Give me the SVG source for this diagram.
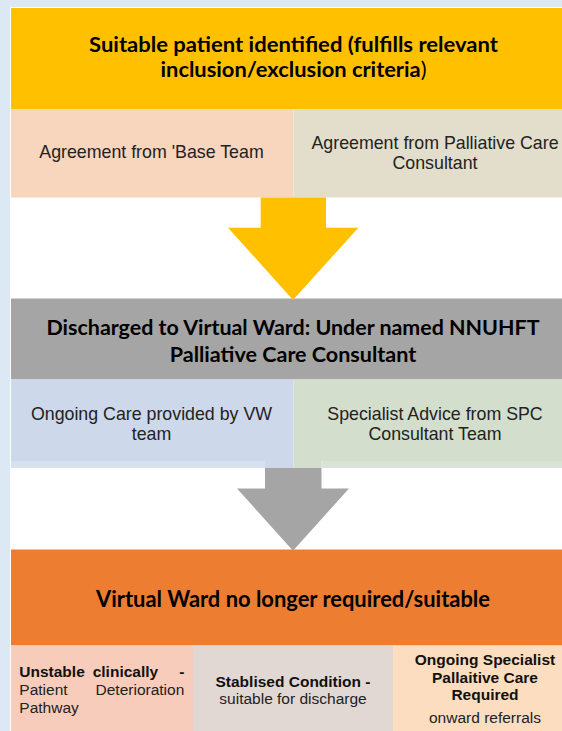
<svg xmlns="http://www.w3.org/2000/svg" width="562" height="731" viewBox="0 0 562 731">
  <style>
    .hdr { font-family: Lato, "Open Sans", "Noto Sans", sans-serif; font-weight: bold; fill: #000; text-anchor: middle; }
    .body { font-family: "Liberation Sans", Arial, sans-serif; fill: #222; }
    .mid { text-anchor: middle; }
    .b { font-weight: bold; fill: #111; }
    .sub { font-size: 17.8px; }
    .small { font-size: 15.5px; }
  </style>

  <!-- page background and frame -->
  <rect x="0" y="0" width="562" height="731" fill="#dde8f5"/>
  <rect x="10" y="7" width="552" height="724" fill="#ffffff"/>

  <!-- stage 1: suitability -->
  <g id="stage1-header">
    <rect x="11" y="8" width="551" height="101.5" fill="#ffc000"/>
    <text class="hdr" x="293.5" y="52" font-size="21" textLength="409" lengthAdjust="spacingAndGlyphs">Suitable patient identified (fulfills relevant</text>
    <text class="hdr" x="293.5" y="77" font-size="21" textLength="266" lengthAdjust="spacingAndGlyphs">inclusion/exclusion criteria<tspan font-weight="normal">)</tspan></text>
  </g>
  <g id="agree-base-team">
    <rect x="11" y="109.5" width="282.5" height="88" fill="#f8d5bd"/>
    <text class="body sub mid" x="151.5" y="158">Agreement from 'Base Team</text>
  </g>
  <g id="agree-palliative">
    <rect x="293.5" y="109.5" width="268.5" height="88" fill="#e3ddcb"/>
    <text class="body sub mid" x="435" y="149">Agreement from Palliative Care</text>
    <text class="body sub mid" x="435" y="169">Consultant</text>
  </g>

  <!-- stage 2: virtual ward -->
  <g id="stage2-header">
    <rect x="11" y="298.5" width="551" height="81" fill="#a5a5a5"/>
    <text class="hdr" x="293" y="335" font-size="21" textLength="493" lengthAdjust="spacingAndGlyphs">Discharged to Virtual Ward: Under named NNUHFT</text>
    <text class="hdr" x="293" y="362" font-size="21" textLength="246.5" lengthAdjust="spacingAndGlyphs">Palliative Care Consultant</text>
  </g>
  <g id="ongoing-care-vw">
    <rect x="11" y="379.5" width="282.5" height="81.5" fill="#cdd8ea"/>
    <rect x="11" y="461" width="254" height="7" fill="#d6e0ef"/>
    <rect x="265" y="461" width="28.5" height="7" fill="#cdd8ea"/>
    <text class="body sub mid" x="151.5" y="420">Ongoing Care provided by VW</text>
    <text class="body sub mid" x="151.5" y="440">team</text>
  </g>
  <g id="specialist-advice">
    <rect x="293.5" y="379.5" width="268.5" height="81.5" fill="#d4decd"/>
    <rect x="321.5" y="461" width="240.5" height="7" fill="#dae3d5"/>
    <rect x="293.5" y="461" width="28" height="7" fill="#d4decd"/>
    <text class="body sub mid" x="435" y="420">Specialist Advice from SPC</text>
    <text class="body sub mid" x="435" y="440">Consultant Team</text>
  </g>

  <!-- stage 3: leaving the virtual ward -->
  <g id="stage3-header">
    <rect x="11" y="549.5" width="551" height="96" fill="#ed7d31"/>
    <text class="hdr" x="293" y="606.5" font-size="23.5" textLength="394" lengthAdjust="spacingAndGlyphs">Virtual Ward no longer required/suitable</text>
  </g>
  <g id="unstable">
    <rect x="11" y="645.5" width="182" height="85.5" fill="#f7ccbb"/>
    <text class="body small b" x="19.3" y="676.5">Unstable</text>
    <text class="body small b" x="92.7" y="676.5">clinically</text>
    <text class="body small b" x="184.3" y="676.5" text-anchor="end">-</text>
    <text class="body small" x="19.3" y="694.5">Patient</text>
    <text class="body small" x="184.3" y="694.5" text-anchor="end">Deterioration</text>
    <text class="body small" x="19.3" y="712.5">Pathway</text>
  </g>
  <g id="stabilised">
    <rect x="193" y="645.5" width="200" height="85.5" fill="#e1d8d4"/>
    <text class="body small mid b" x="293" y="686.5">Stablised Condition -</text>
    <text class="body small mid" x="293" y="704">suitable for discharge</text>
  </g>
  <g id="ongoing-specialist">
    <rect x="393" y="645.5" width="169" height="85.5" fill="#fcddbf"/>
    <text class="body small mid b" x="485" y="665">Ongoing Specialist</text>
    <text class="body small mid b" x="485" y="682.5">Pallaitive Care</text>
    <text class="body small mid b" x="485" y="700">Required</text>
    <text class="body small mid" x="485" y="723.3">onward referrals</text>
  </g>

  <!-- block arrows between stages -->
  <g id="connectors">
    <polygon points="260.7,197.5 326,197.5 326,227.7 358.4,227.7 293,300 228,227.7 260.7,227.7" fill="#ffc000"/>
    <polygon points="265,468 321.5,468 321.5,488.5 349,488.5 293,550.7 237,488.5 265,488.5" fill="#a5a5a5"/>
  </g>
</svg>
